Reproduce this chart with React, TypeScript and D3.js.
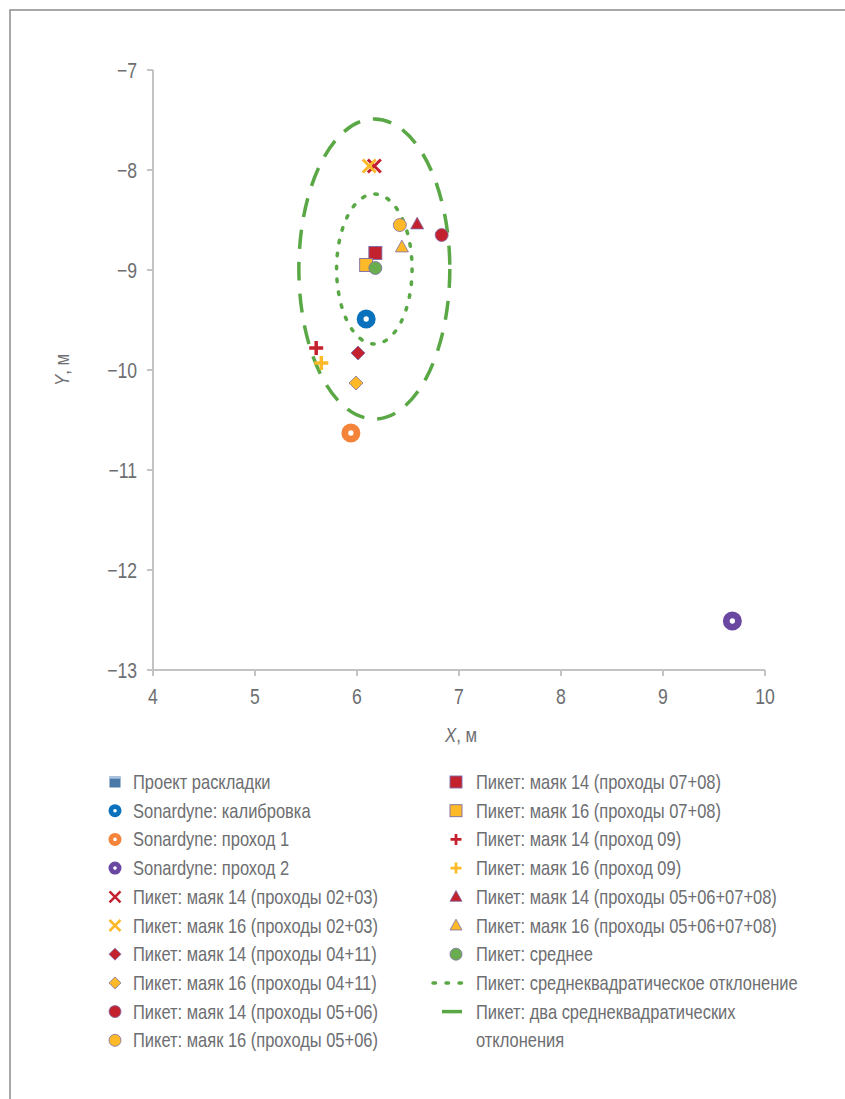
import React from 'react';
import * as d3 from 'd3';

// series, in legend order
const seriesNames = [
  'Проект раскладки',
  'Sonardyne: калибровка',
  'Sonardyne: проход 1',
  'Sonardyne: проход 2',
  'Пикет: маяк 14 (проходы 02+03)',
  'Пикет: маяк 16 (проходы 02+03)',
  'Пикет: маяк 14 (проходы 04+11)',
  'Пикет: маяк 16 (проходы 04+11)',
  'Пикет: маяк 14 (проходы 05+06)',
  'Пикет: маяк 16 (проходы 05+06)',
  'Пикет: маяк 14 (проходы 07+08)',
  'Пикет: маяк 16 (проходы 07+08)',
  'Пикет: маяк 14 (проход 09)',
  'Пикет: маяк 16 (проход 09)',
  'Пикет: маяк 14 (проходы 05+06+07+08)',
  'Пикет: маяк 16 (проходы 05+06+07+08)',
  'Пикет: среднее',
];
const seriesX = [null, 6.09, 5.94, 9.68, 6.17, 6.12, 6.01, 5.99, 6.83, 6.42, 6.18, 6.09, 5.6, 5.65, 6.59, 6.44, 6.18];
const seriesY = [null, -9.49, -10.63, -12.51, -7.96, -7.96, -9.83, -10.13, -8.65, -8.55, -8.83, -8.95, -9.78, -9.93, -8.54, -8.77, -8.98];
const seriesMarker = ['project', 'ring', 'ring', 'ring', 'x', 'x', 'diamond', 'diamond', 'circle', 'circle', 'square', 'square', 'plus', 'plus', 'triangle', 'triangle', 'circle'];
const seriesColor = ['#4a78a8', '#0a72bd', '#f4843a', '#6a47a0', '#c4212e', '#fdb927', '#c4212e', '#fdb927', '#c4212e', '#fdb927', '#c4212e', '#fdb927', '#c4212e', '#fdb927', '#c4212e', '#fdb927', '#69ad4f'];

// spread of the "Пикет" points
const meanXY = [6.17, -8.99];
const sdXY = [0.37, 0.75];
const sdNames = ['Пикет: среднеквадратическое отклонение', 'Пикет: два среднеквадратических', 'отклонения'];

const xTicks = [4, 5, 6, 7, 8, 9, 10];
const yTicks = [-7, -8, -9, -10, -11, -12, -13];

const FONT = "'Liberation Sans', Arial, sans-serif";
const TXT = '#6d6e71';
const AXIS = '#c3c3c5';
const GREEN = '#5aa845';
const OUTLINE = '#7d6ca8';
const NARROW = 0.8; // horizontal squeeze, the original face is a condensed one

function T({ x, y, size, anchor, children }: any) {
  return (
    <text transform={`translate(${x},${y}) scale(${NARROW},1)`} fontSize={size} fill={TXT}
      textAnchor={anchor || 'start'}>
      {children}
    </text>
  );
}

function Marker({ type, color, s }: { type: string; color: string; s: number }) {
  if (type === 'ring') {
    return <circle r={s * 0.64} fill="#fff" stroke={color} strokeWidth={s * 0.72} />;
  }
  if (type === 'circle') {
    return <circle r={s} fill={color} stroke={OUTLINE} strokeWidth={0.8} />;
  }
  if (type === 'square') {
    return <rect x={-s} y={-s} width={2 * s} height={2 * s} fill={color} stroke={OUTLINE} strokeWidth={0.9} />;
  }
  if (type === 'project') {
    return (
      <g>
        <rect x={-s} y={-s} width={2 * s} height={2 * s} fill={color} />
        <rect x={-s} y={-s} width={2 * s} height={s * 0.4} fill="#a9c4e0" />
      </g>
    );
  }
  if (type === 'diamond') {
    return <path d={`M0,${-s}L${s},0L0,${s}L${-s},0Z`} fill={color} stroke={OUTLINE} strokeWidth={0.8} />;
  }
  if (type === 'triangle') {
    return <path d={`M0,${-s * 1.05}L${s},${s * 0.75}L${-s},${s * 0.75}Z`} fill={color} stroke={OUTLINE} strokeWidth={0.8} />;
  }
  if (type === 'x') {
    return <path d={`M${-s},${-s}L${s},${s}M${-s},${s}L${s},${-s}`} stroke={color} strokeWidth={s * 0.45} fill="none" />;
  }
  // plus
  return <path d={`M${-s},0L${s},0M0,${-s}L0,${s}`} stroke={color} strokeWidth={s * 0.5} fill="none" />;
}

const plotSize = [9, 9.5, 9.5, 9.5, 6.5, 6.5, 7, 7, 6.5, 6.5, 6.5, 6.5, 7, 7, 6.5, 6.5, 6.5];
const legendSize = [5.5, 6.5, 6.5, 6.5, 5.5, 5.5, 6, 6, 6, 6, 6, 6, 5.5, 5.5, 6, 6, 6];

export default function App() {
  const W = 845;
  const H = 1099;
  const x = d3.scaleLinear().domain([4, 10]).range([153, 765]);
  const y = d3.scaleLinear().domain([-7, -13]).range([70, 670]);

  const rowY = (i: number) => 782 + i * 28.7;
  const legendItems = seriesNames.map((name, i) => {
    const col = i < 10 ? 0 : 1;
    const row = i < 10 ? i : i - 10;
    return { name, i, col, row };
  });
  const LS = 20.6;

  return (
    <svg width={W} height={H} style={{ position: 'absolute', left: 0, top: 0, background: '#fff' }}
      fontFamily={FONT}>
      {/* frame */}
      <path d={`M10,${H}L10,10L${W},10`} fill="none" stroke="#8c8c8c" strokeWidth={1.5} />

      {/* axes */}
      <g stroke={AXIS} strokeWidth={2} fill="none">
        <line x1={x(4)} x2={x(4)} y1={y(-7)} y2={y(-13)} />
        <line x1={x(4)} x2={x(10)} y1={y(-13)} y2={y(-13)} />
        {yTicks.map(t => <line key={'yt' + t} x1={x(4) - 6} x2={x(4)} y1={y(t)} y2={y(t)} />)}
        {xTicks.map(t => <line key={'xt' + t} x1={x(t)} x2={x(t)} y1={y(-13)} y2={y(-13) + 6} />)}
      </g>
      {yTicks.map(t => (
        <T key={'yl' + t} x={x(4) - 16} y={y(t) + 8} size={22} anchor="end">{t < 0 ? '−' + Math.abs(t) : t}</T>
      ))}
      {xTicks.map(t => (
        <T key={'xl' + t} x={x(t)} y={y(-13) + 34} size={22} anchor="middle">{t}</T>
      ))}
      <T x={461} y={742} size={21} anchor="middle"><tspan fontStyle="italic">X</tspan>, м</T>
      <g transform="translate(69,370) rotate(-90)">
        <T x={0} y={0} size={21} anchor="middle"><tspan fontStyle="italic">Y</tspan>, м</T>
      </g>

      {/* sd ellipses */}
      <ellipse cx={x(meanXY[0])} cy={y(meanXY[1])}
        rx={x(meanXY[0] + 2 * sdXY[0]) - x(meanXY[0])} ry={y(meanXY[1] - 2 * sdXY[1]) - y(meanXY[1])}
        fill="none" stroke={GREEN} strokeWidth={3.5} strokeDasharray="19 13" />
      <ellipse cx={x(meanXY[0])} cy={y(meanXY[1])}
        rx={x(meanXY[0] + sdXY[0]) - x(meanXY[0])} ry={y(meanXY[1] - sdXY[1]) - y(meanXY[1])}
        fill="none" stroke={GREEN} strokeWidth={3.5} strokeDasharray="2.5 10.5" strokeLinecap="round" />

      {/* points */}
      {seriesNames.map((n, i) => {
        const px = seriesX[i];
        const py = seriesY[i];
        if (px == null || py == null) return null;
        return (
          <g key={'p' + i} transform={`translate(${x(px)},${y(py)})`}>
            <Marker type={seriesMarker[i]} color={seriesColor[i]} s={plotSize[i]} />
          </g>
        );
      })}

      {/* legend */}
      {legendItems.map(d => {
        const mx = d.col === 0 ? 115 : 456;
        const tx = d.col === 0 ? 133 : 476;
        const yy = rowY(d.row);
        return (
          <g key={'l' + d.i}>
            <g transform={`translate(${mx},${yy})`}>
              <Marker type={seriesMarker[d.i]} color={seriesColor[d.i]} s={legendSize[d.i]} />
            </g>
            <T x={tx} y={yy + 7} size={LS}>{d.name}</T>
          </g>
        );
      })}
      <line x1={433} x2={462} y1={rowY(7)} y2={rowY(7)} stroke={GREEN} strokeWidth={3.5}
        strokeDasharray="2.5 10.5" strokeLinecap="round" />
      <T x={476} y={rowY(7) + 7} size={LS}>{sdNames[0]}</T>
      <line x1={442} x2={462} y1={rowY(8)} y2={rowY(8)} stroke={GREEN} strokeWidth={3.5} />
      <T x={476} y={rowY(8) + 7} size={LS}>{sdNames[1]}</T>
      <T x={476} y={rowY(9) + 7} size={LS}>{sdNames[2]}</T>
    </svg>
  );
}
